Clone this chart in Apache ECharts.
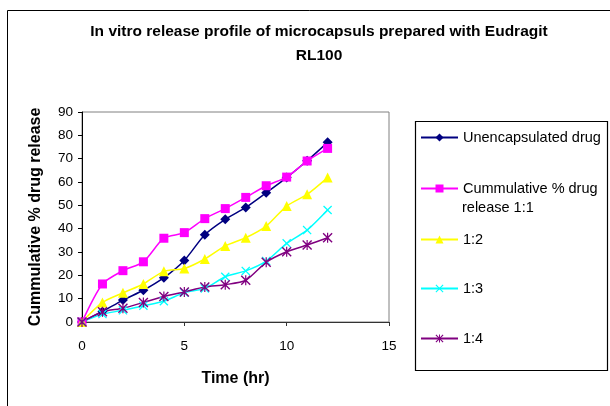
<!DOCTYPE html>
<html>
<head>
<meta charset="utf-8">
<script src="https://cdn.jsdelivr.net/npm/echarts@6/dist/echarts.min.js"></script>
<style>html,body{margin:0;padding:0;background:#fff}#c{width:610px;height:406px}</style>
</head>
<body>
<div id="c"></div>
<script>
var timeHr = [0,1,2,3,4,5,6,7,8,9,10,11,12];
var unencapsulated = [0,4.5,9.4,13.6,19,26.4,37.4,44,49.1,55.4,61.9,69.1,77];
var ratio11 = [0,16.3,22,25.8,35.9,38.3,44.3,48.6,53.4,58.4,62.1,69,74.4];
var ratio12 = [0,8.4,12.5,16.3,21.7,22.9,27,32.6,36.1,41.1,49.7,54.7,61.9];
var ratio13 = [0,3.4,5,7,8.9,12.6,14.4,19.4,21.9,26.1,33.7,39.4,48];
var ratio14 = [0,4.4,5.9,8.4,10.9,12.9,15,16,17.9,25.6,30.1,33,36.1];
var seriesNames = ['Unencapsulated drug','Cummulative % drug release 1:1','1:2','1:3','1:4'];
var xTicks = [0,5,10,15];
var yTicks = [0,10,20,30,40,50,60,70,80,90];

function pairs(v){ return timeHr.map(function(t,i){ return [t, v[i]]; }); }
var crossPath = 'path://M0,1 L1,0 L5,4 L9,0 L10,1 L6,5 L10,9 L9,10 L5,6 L1,10 L0,9 L4,5 Z';
var starPath = 'path://M0,1 L1,0 L5,4 L9,0 L10,1 L6,5 L10,9 L9,10 L5,6 L1,10 L0,9 L4,5 Z M4.4,0 L5.6,0 L5.6,10 L4.4,10 Z';
var colors = ['#000080','#FF00FF','#FFFF00','#00FFFF','#800080'];
var symbols = ['diamond','rect','triangle',crossPath,starPath];
var sizes = [10,9,10,9,10];
var datas = [unencapsulated, ratio11, ratio12, ratio13, ratio14];
var FONT = 'Liberation Sans, Arial';

var series = datas.map(function(d,i){
  return {
    name: seriesNames[i], type:'line', data: pairs(d), smooth: 0.25,
    symbol: symbols[i], symbolSize: sizes[i], showAllSymbol:true,
    lineStyle:{color:colors[i], width:1.5},
    itemStyle:{color:colors[i], borderWidth:0},
    animation:false
  };
});

var legendTops = [125, 176, 227, 276, 326];
var legends = seriesNames.map(function(n,i){
  return {
    data:[n], left:415, top:legendTops[i], itemWidth:37, itemHeight:10, itemGap:0,
    textStyle:{fontFamily:FONT, fontSize:14.5, color:'#000'},
    formatter: function(name){ return name === seriesNames[1] ? 'Cummulative % drug' : name; },
    selectedMode:false
  };
});

var chart = echarts.init(document.getElementById('c'), null, {renderer:'canvas'});
chart.setOption({
  backgroundColor:'#fff',
  animation:false,
  color: colors,
  title:{
    text:'In vitro release profile of microcapsuls prepared with Eudragit\nRL100',
    left:314, top:15, textAlign:'center',
    textStyle:{fontFamily:FONT, fontSize:15.5, fontWeight:'bold', color:'#000', lineHeight:24}
  },
  legend: legends,
  grid:{left:82, right:221, top:112, bottom:84, show:true, borderColor:'#808080', borderWidth:1},
  xAxis:{
    type:'value', min:0, max:15, interval:5,
    name:'Time (hr)', nameLocation:'middle', nameGap:49,
    nameTextStyle:{fontFamily:FONT, fontSize:16, fontWeight:'bold', color:'#000'},
    axisLine:{lineStyle:{color:'#333', width:1}},
    axisTick:{show:true, inside:false, length:4, lineStyle:{color:'#333'}},
    axisLabel:{margin:17, fontFamily:FONT, fontSize:13.5, color:'#000',
      formatter:function(v){ return xTicks.indexOf(v)>=0 ? String(v) : ''; }},
    splitLine:{show:false}
  },
  yAxis:{
    type:'value', min:0, max:90, interval:10,
    name:'Cummulative % drug release', nameLocation:'middle', nameGap:38,
    nameTextStyle:{fontFamily:FONT, fontSize:16, fontWeight:'bold', color:'#000'},
    axisLine:{show:true, lineStyle:{color:'#000', width:1}},
    axisTick:{show:true, inside:false, length:4, lineStyle:{color:'#000'}},
    axisLabel:{margin:9, fontFamily:FONT, fontSize:13.5, color:'#000',
      formatter:function(v){ return yTicks.indexOf(v)>=0 ? String(v) : ''; }},
    splitLine:{show:false}
  },
  graphic:[
    {type:'rect', shape:{x:7.5, y:10.5, width:620, height:420}, style:{fill:null, stroke:'#000', lineWidth:1}, silent:true, z:-1},
    {type:'rect', shape:{x:415.5, y:121.5, width:192, height:249}, style:{fill:null, stroke:'#000', lineWidth:1.2}, silent:true},
    {type:'text', left:462, top:200, style:{text:'release 1:1', font:'14.5px "Liberation Sans", Arial', fill:'#000'}, silent:true}
  ],
  series: series
});
</script>
</body>
</html>
